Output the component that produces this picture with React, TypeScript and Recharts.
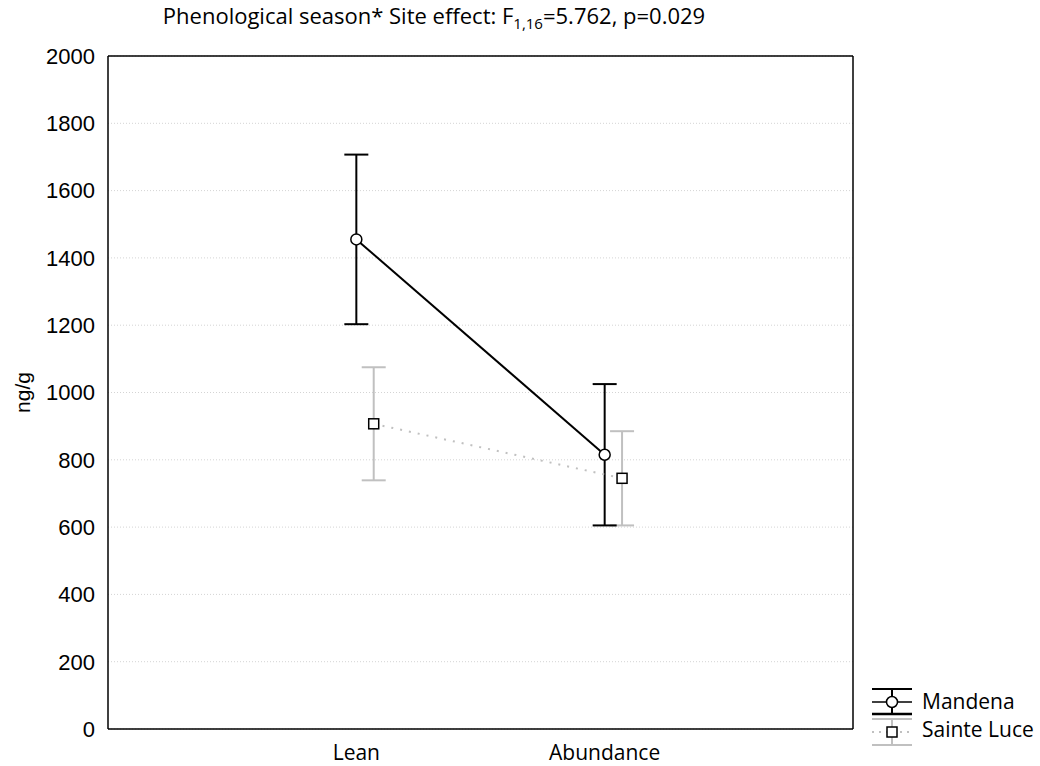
import { ComposedChart, Scatter, XAxis, YAxis, CartesianGrid, ErrorBar } from 'recharts'

const seasons = ['Lean', 'Abundance']
const mandenaMean = [1455, 815]
const mandenaErr = [252, 210]
const sainteLuceMean = [907, 745]
const sainteLuceErr = [168, 140]
const yTicks = [0, 200, 400, 600, 800, 1000, 1200, 1400, 1600, 1800, 2000]
const xTicks = [1, 2]

const SHIFT = 0.07 // Sainte Luce drawn slightly right of the category

const mandenaData = seasons.map((s, i) => ({ season: s, x: i + 1, y: mandenaMean[i], err: mandenaErr[i] }))
const sainteLuceData = seasons.map((s, i) => ({ season: s, x: i + 1 + SHIFT, y: sainteLuceMean[i], err: sainteLuceErr[i] }))

const GRAY = '#c0c0c0'
const numFont = 'Liberation Sans, Arial, sans-serif'
const labelFont = 'Open Sans, sans-serif'

const Circle = (p: any) => <circle cx={p.cx} cy={p.cy} r={5.5} fill="#fff" stroke="#000" strokeWidth={1.5} />
const Square = (p: any) => <rect x={p.cx - 5} y={p.cy - 5} width={10} height={10} fill="#fff" stroke="#000" strokeWidth={1.5} />

const blank = () => ''

function LegendBox() {
  return (
    <div style={{ position: 'absolute', left: 868, top: 684, fontFamily: labelFont, fontSize: 21, color: '#000' }}>
      <svg width={50} height={64} style={{ position: 'absolute', left: 0, top: 0 }}>
        <line x1={4} y1={5} x2={44} y2={5} stroke="#000" strokeWidth={2} />
        <line x1={4} y1={18} x2={44} y2={18} stroke="#000" strokeWidth={1.5} />
        <line x1={4} y1={30} x2={44} y2={30} stroke="#000" strokeWidth={2.5} />
        <line x1={24} y1={5} x2={24} y2={30} stroke="#000" strokeWidth={2} />
        <circle cx={24} cy={18} r={5.5} fill="#fff" stroke="#000" strokeWidth={1.5} />
        <line x1={4} y1={35} x2={44} y2={35} stroke={GRAY} strokeWidth={2} />
        <line x1={4} y1={61} x2={44} y2={61} stroke={GRAY} strokeWidth={2} />
        <line x1={24} y1={35} x2={24} y2={61} stroke={GRAY} strokeWidth={2} />
        <line x1={4} y1={48} x2={44} y2={48} stroke={GRAY} strokeWidth={2} strokeDasharray="2 5" />
        <rect x={19} y={43} width={10} height={10} fill="#fff" stroke="#000" strokeWidth={1.5} />
      </svg>
      <div style={{ position: 'absolute', left: 54, top: 4, whiteSpace: 'nowrap', lineHeight: '26px' }}>Mandena</div>
      <div style={{ position: 'absolute', left: 54, top: 32, whiteSpace: 'nowrap', lineHeight: '26px' }}>Sainte Luce</div>
    </div>
  )
}

export default function App() {
  return (
    <div style={{ position: 'absolute', left: 0, top: 0, width: 1040, height: 766, background: '#fff' }}>
      <div
        style={{
          position: 'absolute',
          left: 0,
          width: 868,
          top: 0,
          textAlign: 'center',
          fontFamily: labelFont,
          fontSize: 22,
          lineHeight: '30px',
          whiteSpace: 'nowrap',
        }}
      >
        Phenological season* Site effect: F<sub style={{ fontSize: 15, lineHeight: 0 }}>1,16</sub>=5.762, p=0.029
      </div>
      <ComposedChart width={1040} height={766} margin={{ top: 56, right: 187, bottom: 0, left: 0 }}>
        <CartesianGrid xAxisId="main" yAxisId="left" vertical={false} stroke="#d4d4d4" strokeDasharray="1 2" />
        <XAxis
          xAxisId="main"
          dataKey="x"
          type="number"
          domain={[0, 3]}
          ticks={xTicks}
          tickFormatter={(v: number) => seasons[v - 1] ?? ''}
          height={37}
          tickLine={false}
          tickSize={0}
          tickMargin={16}
          axisLine={{ stroke: '#000', strokeWidth: 1.5 }}
          tick={{ fill: '#000', fontFamily: labelFont, fontSize: 21, fontWeight: 400 }}
        />
        <XAxis
          xAxisId="bottomTicks"
          type="number"
          domain={[0, 3]}
          ticks={xTicks}
          mirror
          axisLine={false}
          tickSize={5}
          tickFormatter={blank}
          tickLine={{ stroke: '#000' }}
        />
        <XAxis
          xAxisId="top"
          orientation="top"
          type="number"
          domain={[0, 3]}
          ticks={xTicks}
          mirror
          tickSize={5}
          tickFormatter={blank}
          axisLine={{ stroke: '#000', strokeWidth: 1.5 }}
          tickLine={{ stroke: '#000' }}
        />
        <YAxis
          yAxisId="left"
          dataKey="y"
          type="number"
          domain={[0, 2000]}
          ticks={yTicks}
          width={108}
          tickLine={false}
          tickSize={0}
          tickMargin={13}
          axisLine={{ stroke: '#000', strokeWidth: 1.5 }}
          tick={{ fill: '#000', fontFamily: numFont, fontSize: 22, fontWeight: 400 }}
          label={{
            content: (props: any) => {
              const vb = props.viewBox
              const cy = vb.y + vb.height / 2
              return (
                <text
                  x={30}
                  y={cy}
                  transform={`rotate(-90 30 ${cy})`}
                  textAnchor="middle"
                  fontFamily={numFont}
                  fontSize={21}
                  fill="#000"
                >
                  ng/g
                </text>
              )
            },
          }}
        />
        <YAxis
          yAxisId="leftTicks"
          type="number"
          domain={[0, 2000]}
          ticks={yTicks}
          mirror
          axisLine={false}
          tickSize={5}
          tickFormatter={blank}
          tickLine={{ stroke: '#000' }}
        />
        <YAxis
          yAxisId="right"
          orientation="right"
          type="number"
          domain={[0, 2000]}
          ticks={yTicks}
          mirror
          tickSize={5}
          tickFormatter={blank}
          axisLine={{ stroke: '#000', strokeWidth: 1.5 }}
          tickLine={{ stroke: '#000' }}
        />
        <Scatter
          name="Sainte Luce"
          data={sainteLuceData}
          xAxisId="main"
          yAxisId="left"
          shape={Square}
          line={{ stroke: GRAY, strokeWidth: 2, strokeDasharray: '2 7' }}
          isAnimationActive={false}
        >
          <ErrorBar dataKey="err" direction="y" width={12} stroke={GRAY} strokeWidth={2} isAnimationActive={false} />
        </Scatter>
        <Scatter
          name="Mandena"
          data={mandenaData}
          xAxisId="main"
          yAxisId="left"
          shape={Circle}
          line={{ stroke: '#000', strokeWidth: 2 }}
          isAnimationActive={false}
        >
          <ErrorBar dataKey="err" direction="y" width={12} stroke="#000" strokeWidth={2} isAnimationActive={false} />
        </Scatter>
      </ComposedChart>
      <LegendBox />
    </div>
  )
}
